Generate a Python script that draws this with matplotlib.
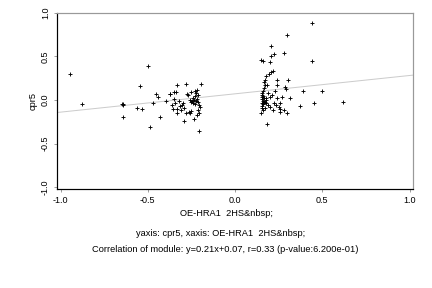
import matplotlib
matplotlib.use("Agg")
import matplotlib.pyplot as plt

plt.rcParams['font.family'] = ['Liberation Sans', 'DejaVu Sans']

# left cluster (negative x)
left_x = [-0.943, -0.877, -0.642, -0.640, -0.645, -0.642, -0.498, -0.544, -0.563, -0.533, -0.487, -0.470,
          -0.452, -0.440, -0.427, -0.397, -0.374, -0.351, -0.370, -0.352, -0.339, -0.333, -0.360, -0.356,
          -0.330, -0.335, -0.316, -0.306, -0.300, -0.291, -0.282, -0.274, -0.268, -0.259, -0.250, -0.245,
          -0.240, -0.235, -0.232, -0.257, -0.265, -0.250, -0.234, -0.228, -0.222, -0.215, -0.210, -0.197,
          -0.205, -0.205, -0.200, -0.210, -0.205, -0.213, -0.225, -0.218, -0.240, -0.290, -0.310, -0.345,
          -0.320, -0.280, -0.220, -0.250, -0.230]
left_y = [0.30, -0.046, -0.045, -0.060, -0.050, -0.195, 0.39, 0.16, -0.092, -0.103, -0.307, -0.038,
          0.065, 0.03, -0.195, -0.015, 0.07, 0.092, 0.065, 0.008, 0.088, 0.172, -0.058, -0.10,
          -0.103, -0.146, -0.069, -0.054, -0.03, -0.242, 0.177, 0.065, 0.06, 0.0, -0.02, -0.01,
          -0.03, 0.0, -0.05, -0.153, -0.14, -0.13, -0.215, 0.103, 0.08, 0.11, 0.06, 0.177,
          -0.36, -0.06, -0.085, -0.12, -0.15, -0.02, -0.01, 0.01, 0.02, -0.09, -0.12, -0.04,
          -0.01, -0.15, -0.17, 0.09, 0.05]

# right cluster (positive x)
right_x = [0.439, 0.299, 0.209, 0.222, 0.209, 0.278, 0.151, 0.163, 0.203, 0.439, 0.220, 0.209,
           0.194, 0.178, 0.172, 0.168, 0.243, 0.306, 0.171, 0.183, 0.240, 0.285, 0.290, 0.168,
           0.387, 0.496, 0.163, 0.155, 0.152, 0.160, 0.213, 0.272, 0.318, 0.155, 0.152, 0.158,
           0.153, 0.160, 0.155, 0.152, 0.158, 0.151, 0.170, 0.175, 0.180, 0.190, 0.200, 0.225,
           0.235, 0.250, 0.260, 0.215, 0.255, 0.300, 0.370, 0.450, 0.621, 0.184, 0.165, 0.170,
           0.165, 0.180, 0.200, 0.240, 0.260, 0.280, 0.230, 0.190]
right_y = [0.88, 0.747, 0.62, 0.53, 0.50, 0.54, 0.46, 0.45, 0.43, 0.45, 0.33, 0.315,
           0.30, 0.27, 0.23, 0.21, 0.23, 0.23, 0.172, 0.172, 0.172, 0.15, 0.12, 0.14,
           0.107, 0.103, 0.10, 0.08, 0.06, 0.05, 0.058, 0.03, 0.019, 0.03, 0.01, -0.01,
           -0.03, -0.05, -0.07, -0.09, -0.11, -0.146, -0.02, 0.0, -0.04, -0.06, -0.08, -0.03,
           -0.06, -0.08, -0.10, -0.12, -0.14, -0.15, -0.07, -0.038, -0.023, -0.276, -0.02, -0.09,
           0.02, 0.02, 0.03, 0.02, -0.04, -0.12, 0.10, 0.08]

# fitted line from the caption
slope = 0.21
intercept = 0.07

ticks = [-1.0, -0.5, 0.0, 0.5, 1.0]
tick_labels = ['-1.0', '-0.5', '0.0', '0.5', '1.0']

fig = plt.figure(figsize=(6, 4), dpi=72)
ax = fig.add_axes([0.132, 0.344, 0.824, 0.612])

ax.set_xlim(-1.02, 1.02)
ax.set_ylim(-1.02, 1.0)

ax.axline((0, intercept), slope=slope, color='#cccccc', lw=1.0, zorder=1)
ax.scatter(left_x + right_x, left_y + right_y, marker='+', color='black',
           s=16, linewidths=0.9, zorder=2)

ax.set_xticks(ticks)
ax.set_xticklabels(tick_labels)
ax.set_yticks(ticks)
ax.set_yticklabels(tick_labels, rotation=90, va='center')
ax.tick_params(labelsize=9, length=3, width=0.8, color='#888888', pad=4)

for side in ['left', 'bottom']:
    ax.spines[side].set_color('black')
    ax.spines[side].set_linewidth(1.2)
for side in ['top', 'right']:
    ax.spines[side].set_color('#999999')
    ax.spines[side].set_linewidth(1.2)

fs = 9.3
ax.set_ylabel('cpr5', fontsize=fs, labelpad=3)

fig.text(227 / 432, 1 - 214 / 288, 'OE-HRA1  2HS&nbsp;',
         ha='center', va='center', fontsize=fs)
fig.text(221 / 432, 1 - 233 / 288, 'yaxis: cpr5, xaxis: OE-HRA1  2HS&nbsp;',
         ha='center', va='center', fontsize=fs)
fig.text(225 / 432, 1 - 250 / 288,
         'Correlation of module: y=0.21x+0.07, r=0.33 (p-value:6.200e-01)',
         ha='center', va='center', fontsize=fs)

fig.savefig('out.png', dpi=72)
